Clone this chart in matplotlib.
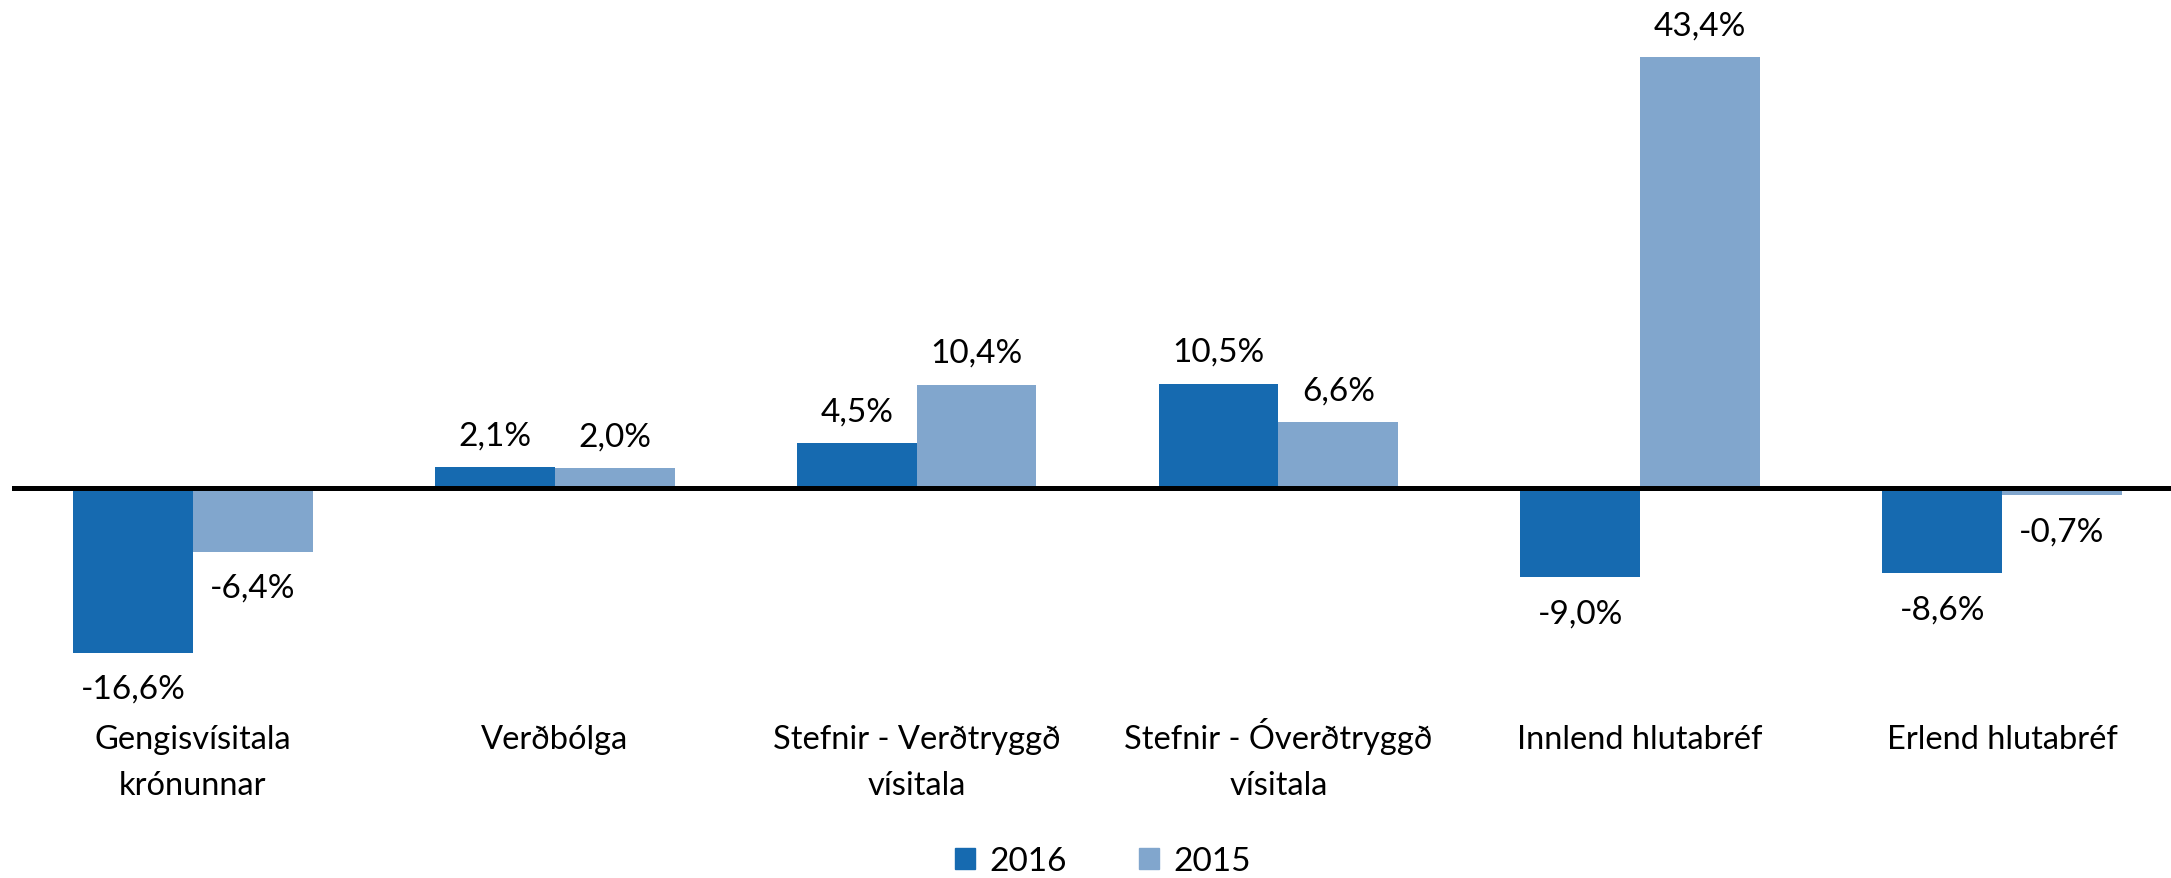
import numpy as np
import matplotlib
matplotlib.use("Agg")
import matplotlib.pyplot as plt
import matplotlib.transforms as mtransforms
from matplotlib.patches import Patch

plt.rcParams['font.family'] = ['Lato', 'DejaVu Sans']

categories = ["Gengisvísitala\nkrónunnar", "Verðbólga", "Stefnir - Verðtryggð\nvísitala",
              "Stefnir - Óverðtryggð\nvísitala", "Innlend hlutabréf", "Erlend hlutabréf"]
series_names = ["2016", "2015"]
vals_2016 = [-16.6, 2.1, 4.5, 10.5, -9.0, -8.6]
vals_2015 = [-6.4, 2.0, 10.4, 6.6, 43.4, -0.7]

c2016 = "#166AB0"
c2015 = "#81A6CD"

W, H = 2171, 879
fig = plt.figure(figsize=(W / 100, H / 100), dpi=100)

# axes geometry in pixels
left_px, bottom_px = 12, 712
zero_px = 489
px_per = 9.93
ax = fig.add_axes([left_px / W, (H - bottom_px) / H, (W - left_px) / W, bottom_px / H])

x = np.arange(len(categories))
bw = 0.331
ax.bar(x - bw / 2, vals_2016, bw, color=c2016)
ax.bar(x + bw / 2, vals_2015, bw, color=c2015)

ax.axhline(0, color="black", lw=3.6, zorder=5)

ax.set_xlim(-0.5, 5.5 - (2183 - W) / 362)
ax.set_ylim(-(bottom_px - zero_px) / px_per, zero_px / px_per)

def fmt(v):
    return f"{v:.1f}".replace(".", ",") + "%"

fs = 24
for xs, vals in [(x - bw / 2, vals_2016), (x + bw / 2, vals_2015)]:
    for xi, v in zip(xs, vals):
        off = 23 if v >= 0 else -26
        ax.annotate(fmt(v), (xi, v), xytext=(0, off), textcoords="offset points",
                    ha="center", va="center", fontsize=fs)

# category labels, one line at a time so baselines line up
trans = mtransforms.blended_transform_factory(ax.transData, fig.transFigure)
for xi, cat in zip(x, categories):
    for k, line in enumerate(cat.split("\n")):
        ax.text(xi, 1 - (749 + 46 * k) / H, line, transform=trans, ha="center",
                va="baseline", fontsize=23.5, clip_on=False)

ax.set_xticks([])
ax.set_yticks([])
for s in ax.spines.values():
    s.set_visible(False)

handles = [Patch(color=c2016, label="2016"), Patch(color=c2015, label="2015")]
fig.legend(handles=handles, loc="center", bbox_to_anchor=(1103 / W, 1 - 862 / H), ncol=2,
           frameon=False, fontsize=fs, handlelength=0.6, handleheight=0.6,
           handletextpad=0.45, columnspacing=2.15, borderpad=0)

fig.savefig("out.png", dpi=100)
